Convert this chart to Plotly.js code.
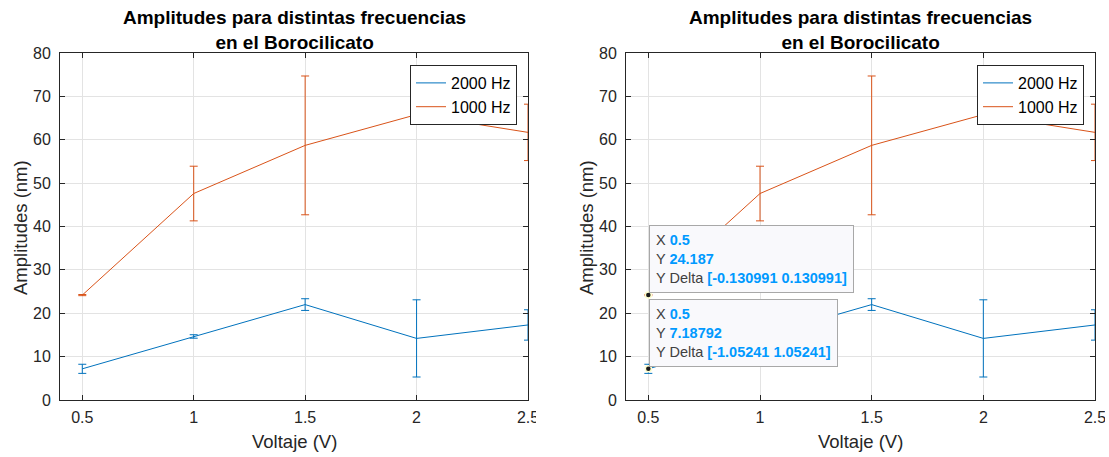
<!DOCTYPE html>
<html>
<head>
<meta charset="utf-8">
<script src="https://cdn.plot.ly/plotly-3.0.1.min.js"></script>
<style>html,body{margin:0;padding:0;background:#fff;}#chart{width:1109px;height:457px;}</style>
</head>
<body>
<div id="chart"></div>
<script>
// ---- data ----
const volt = [0.5, 1, 1.5, 2, 2.5];
const amp2000 = [7.18792, 14.65, 22.0, 14.2, 17.3];
const err2000 = [1.05241, 0.4, 1.35, 8.9, 3.5];
const amp1000 = [24.187, 47.6, 58.7, 65.8, 61.7];
const err1000 = [0.130991, 6.3, 16.0, 0.6, 6.5];
const seriesNames = ["2000 Hz", "1000 Hz"];
const xTicks = [0.5, 1, 1.5, 2, 2.5];
const yTicks = [0, 10, 20, 30, 40, 50, 60, 70, 80];
const titleText = "Amplitudes para distintas frecuencias<br>en el Borocilicato";
const xTitle = "Voltaje (V)";
const yTitle = "Amplitudes (nm)";

// ---- layout helpers ----
const W = 1109, H = 457;
const px = v => v / W;
const py = v => 1 - v / H;
const BLUE = "#0072BD", ORANGE = "#D95319";
const FONT = "Liberation Sans, Arial, Helvetica, sans-serif";

function series(xa, ya, leg, y, e, name, color) {
  return {
    type: "scatter", mode: "lines", x: volt, y: y, name: name,
    xaxis: xa, yaxis: ya, legend: leg, cliponaxis: false,
    line: {color: color, width: 1},
    error_y: {type: "data", array: e, visible: true, color: color, thickness: 1, width: 4}
  };
}

const traces = [
  series("x", "y", "legend", amp2000, err2000, seriesNames[0], BLUE),
  series("x", "y", "legend", amp1000, err1000, seriesNames[1], ORANGE),
  series("x2", "y2", "legend2", amp2000, err2000, seriesNames[0], BLUE),
  series("x2", "y2", "legend2", amp1000, err1000, seriesNames[1], ORANGE),
  {
    type: "scatter", mode: "markers", x: [volt[0], volt[0]], y: [amp1000[0], amp2000[0]],
    xaxis: "x2", yaxis: "y2", showlegend: false, cliponaxis: false,
    marker: {color: "#1a1a1a", size: 6, line: {color: "#FFFFD0", width: 1.5}}
  }
];

function xaxis(domain) {
  return {
    domain: domain, range: [0.4, 2.5], tickvals: xTicks, ticktext: xTicks.map(String),
    showgrid: true, gridcolor: "#E3E3E3", gridwidth: 1, zeroline: false,
    showline: true, linecolor: "#262626", linewidth: 1, mirror: "ticks",
    ticks: "inside", ticklen: 5, tickcolor: "#262626", ticklabelstandoff: 3,
    tickfont: {size: 16, color: "#262626", family: FONT}
  };
}
function yaxis(anchor) {
  return {
    domain: [py(400), py(53)], range: [0, 80], tickvals: yTicks, anchor: anchor,
    showgrid: true, gridcolor: "#E3E3E3", gridwidth: 1, zeroline: false,
    showline: true, linecolor: "#262626", linewidth: 1, mirror: "ticks",
    ticks: "inside", ticklen: 5, tickcolor: "#262626", ticklabelstandoff: 5,
    tickfont: {size: 16, color: "#262626", family: FONT}
  };
}

const blue = v => '<span style="color:#0099FF;font-weight:bold">' + v + '</span>';
function tip(y, e) {
  return "X " + blue(volt[0]) + "<br>Y " + blue(y) + "<br>Y Delta " + blue("[-" + e + " " + e + "]");
}

const annotations = [];
[[60, 528], [626, 1095]].forEach(([l, r]) => {
  const c = (l + r) / 2;
  annotations.push({xref: "paper", yref: "paper", x: px(c), y: py(30), xanchor: "center", yanchor: "middle",
    text: "<b>" + titleText + "</b>", showarrow: false, font: {size: 19, color: "#000", family: FONT}});
  annotations.push({xref: "paper", yref: "paper", x: px(c), y: py(441), xanchor: "center", yanchor: "middle",
    text: xTitle, showarrow: false, font: {size: 18.5, color: "#262626", family: FONT}});
  annotations.push({xref: "paper", yref: "paper", x: px(l - 40), y: py(228), xanchor: "center", yanchor: "middle",
    text: yTitle, textangle: -90, showarrow: false, font: {size: 18.5, color: "#262626", family: FONT}});
});
const tipStyle = {xanchor: "left", yanchor: "bottom", xshift: 1, yshift: 2, showarrow: false, align: "left",
  bgcolor: "#F9F9FC", bordercolor: "#A8A8A8", borderwidth: 1, borderpad: 6,
  font: {size: 14.5, color: "#404040", family: FONT}};
annotations.push(Object.assign({xref: "x2", yref: "y2", x: volt[0], y: amp1000[0],
  text: tip(amp1000[0], err1000[0])}, tipStyle));
annotations.push(Object.assign({xref: "x2", yref: "y2", x: volt[0], y: amp2000[0],
  text: tip(amp2000[0], err2000[0])}, tipStyle));

const legendStyle = (xr) => ({
  x: px(xr), xanchor: "right", y: py(65), yanchor: "top",
  bgcolor: "#FFFFFF", bordercolor: "#262626", borderwidth: 1,
  font: {size: 16, color: "#000", family: FONT}, tracegroupgap: 0, itemwidth: 30
});

const layout = {
  width: W, height: H, margin: {l: 0, r: 0, t: 0, b: 0},
  paper_bgcolor: "#FFFFFF", plot_bgcolor: "#FFFFFF",
  font: {family: FONT, color: "#262626"},
  showlegend: true,
  xaxis: Object.assign(xaxis([px(60), px(528)]), {anchor: "y"}),
  yaxis: yaxis("x"),
  xaxis2: Object.assign(xaxis([px(626), px(1095)]), {anchor: "y2"}),
  yaxis2: yaxis("x2"),
  legend: legendStyle(517),
  legend2: legendStyle(1084),
  annotations: annotations,
  shapes: [
    {type: "rect", xref: "paper", yref: "paper", layer: "above", x0: px(536), x1: px(560), y0: py(432), y1: py(401),
      fillcolor: "#FFFFFF", line: {width: 0}},
    {type: "rect", xref: "paper", yref: "paper", layer: "above", x0: px(1105), x1: 1, y0: py(432), y1: py(401),
      fillcolor: "#FFFFFF", line: {width: 0}}
  ]
};

Plotly.newPlot("chart", traces, layout, {displayModeBar: false, staticPlot: true});
</script>
</body>
</html>
